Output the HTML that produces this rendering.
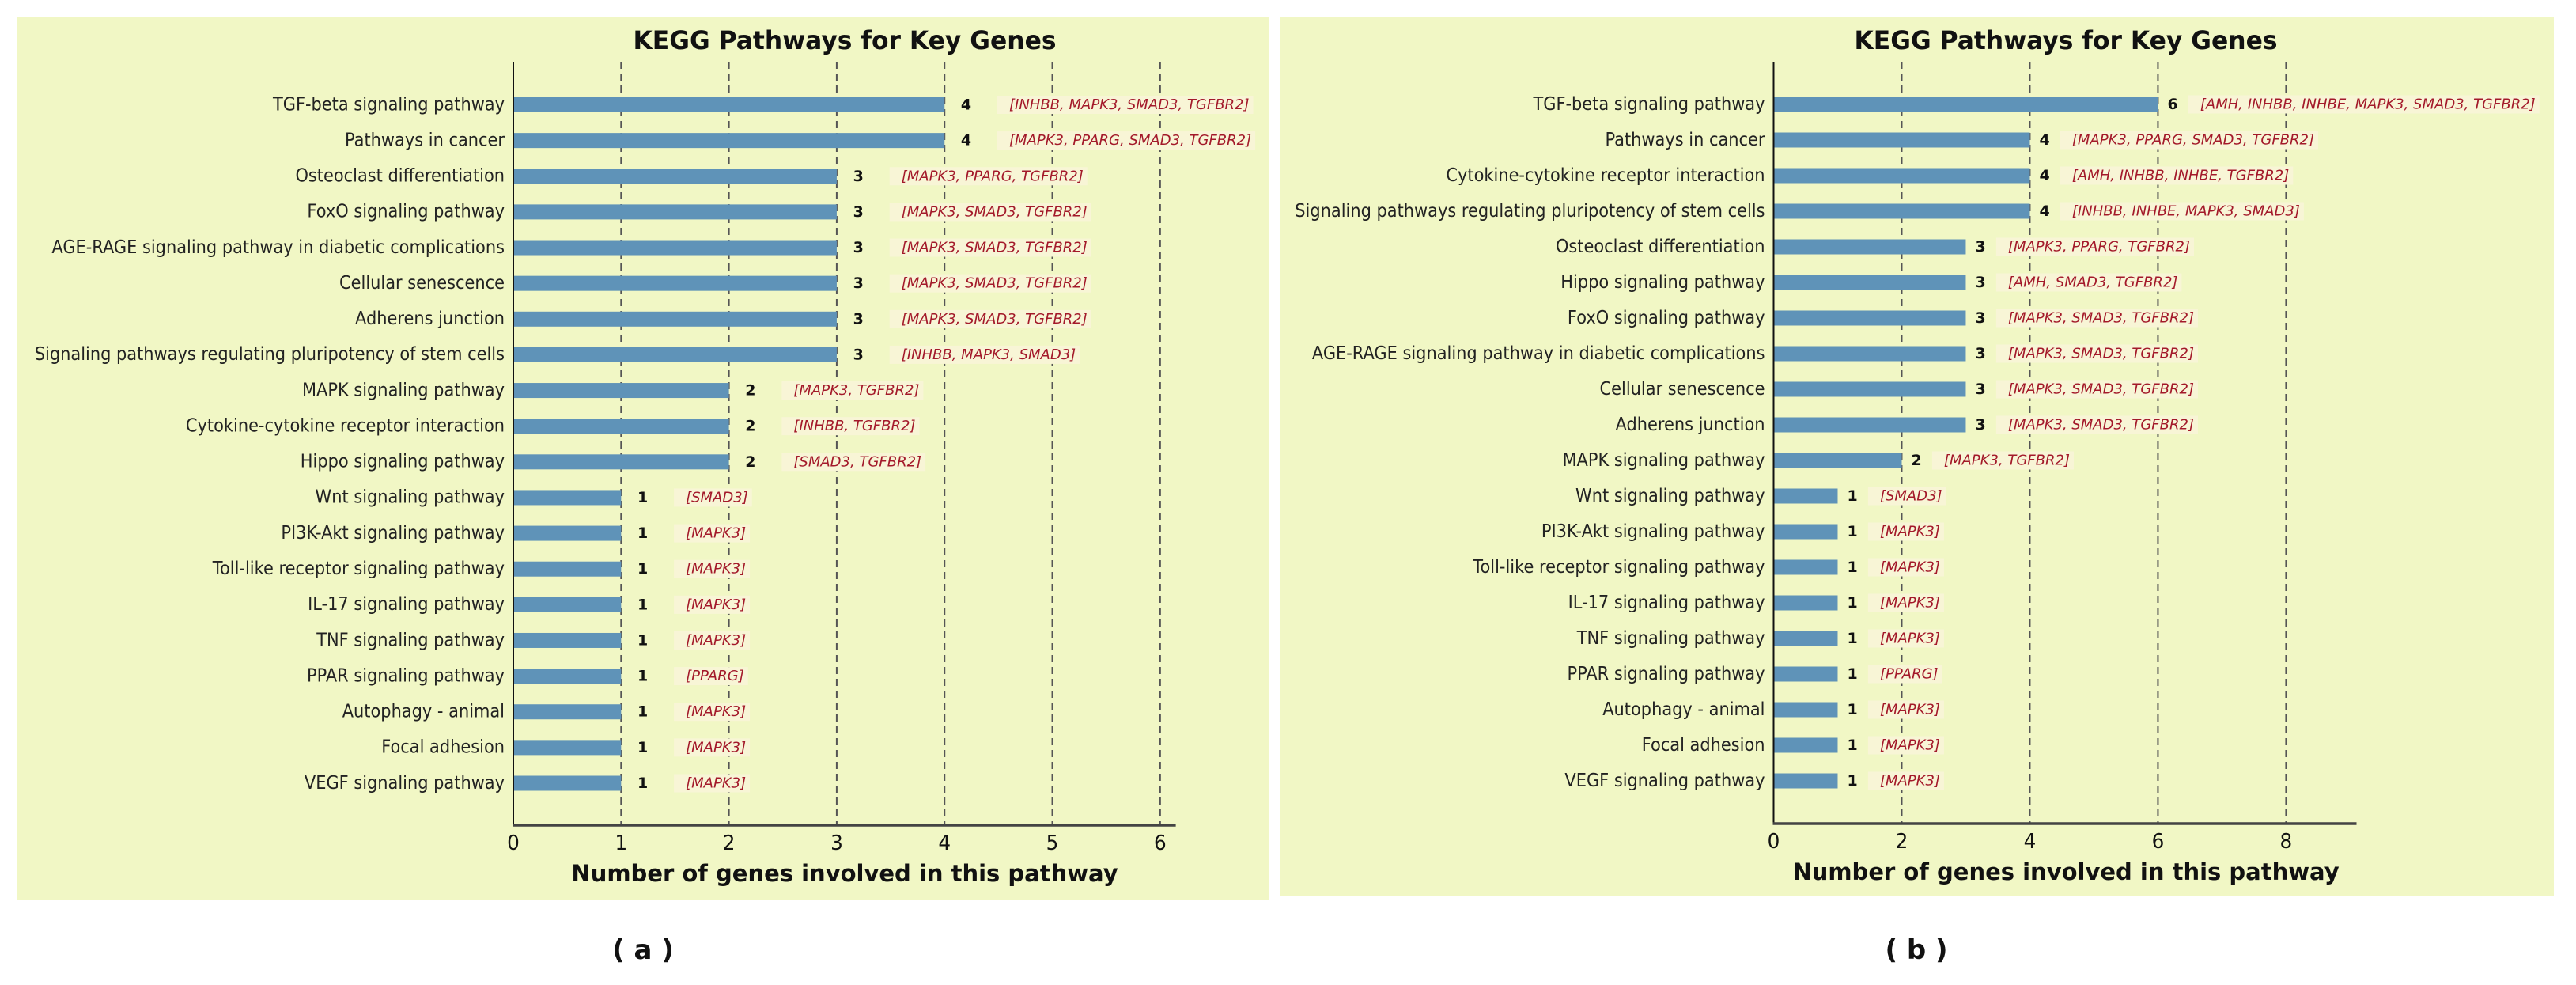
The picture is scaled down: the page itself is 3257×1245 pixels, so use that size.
<!DOCTYPE html>
<html><head><meta charset="utf-8"><style>
html,body{margin:0;padding:0;background:#fff;width:3257px;height:1245px;overflow:hidden}
svg text{font-family:"DejaVu Sans","Liberation Sans",sans-serif}
</style></head><body>
<svg id="fig" width="3257" height="1245" xmlns="http://www.w3.org/2000/svg"></svg>
<script>
const categoriesA = ["TGF-beta signaling pathway","Pathways in cancer","Osteoclast differentiation","FoxO signaling pathway","AGE-RAGE signaling pathway in diabetic complications","Cellular senescence","Adherens junction","Signaling pathways regulating pluripotency of stem cells","MAPK signaling pathway","Cytokine-cytokine receptor interaction","Hippo signaling pathway","Wnt signaling pathway","PI3K-Akt signaling pathway","Toll-like receptor signaling pathway","IL-17 signaling pathway","TNF signaling pathway","PPAR signaling pathway","Autophagy - animal","Focal adhesion","VEGF signaling pathway"];
const valuesA = [4,4,3,3,3,3,3,3,2,2,2,1,1,1,1,1,1,1,1,1];
const genesA = ["[INHBB, MAPK3, SMAD3, TGFBR2]","[MAPK3, PPARG, SMAD3, TGFBR2]","[MAPK3, PPARG, TGFBR2]","[MAPK3, SMAD3, TGFBR2]","[MAPK3, SMAD3, TGFBR2]","[MAPK3, SMAD3, TGFBR2]","[MAPK3, SMAD3, TGFBR2]","[INHBB, MAPK3, SMAD3]","[MAPK3, TGFBR2]","[INHBB, TGFBR2]","[SMAD3, TGFBR2]","[SMAD3]","[MAPK3]","[MAPK3]","[MAPK3]","[MAPK3]","[PPARG]","[MAPK3]","[MAPK3]","[MAPK3]"];
const ticksA = [0,1,2,3,4,5,6];
const categoriesB = ["TGF-beta signaling pathway","Pathways in cancer","Cytokine-cytokine receptor interaction","Signaling pathways regulating pluripotency of stem cells","Osteoclast differentiation","Hippo signaling pathway","FoxO signaling pathway","AGE-RAGE signaling pathway in diabetic complications","Cellular senescence","Adherens junction","MAPK signaling pathway","Wnt signaling pathway","PI3K-Akt signaling pathway","Toll-like receptor signaling pathway","IL-17 signaling pathway","TNF signaling pathway","PPAR signaling pathway","Autophagy - animal","Focal adhesion","VEGF signaling pathway"];
const valuesB = [6,4,4,4,3,3,3,3,3,3,2,1,1,1,1,1,1,1,1,1];
const genesB = ["[AMH, INHBB, INHBE, MAPK3, SMAD3, TGFBR2]","[MAPK3, PPARG, SMAD3, TGFBR2]","[AMH, INHBB, INHBE, TGFBR2]","[INHBB, INHBE, MAPK3, SMAD3]","[MAPK3, PPARG, TGFBR2]","[AMH, SMAD3, TGFBR2]","[MAPK3, SMAD3, TGFBR2]","[MAPK3, SMAD3, TGFBR2]","[MAPK3, SMAD3, TGFBR2]","[MAPK3, SMAD3, TGFBR2]","[MAPK3, TGFBR2]","[SMAD3]","[MAPK3]","[MAPK3]","[MAPK3]","[MAPK3]","[PPARG]","[MAPK3]","[MAPK3]","[MAPK3]"];
const ticksB = [0,2,4,6,8];
const gridA = [1,2,3,4,5,6];
const gridB = [2,4,6,8];

const NS="http://www.w3.org/2000/svg";
const svg=document.getElementById('fig');
function mk(tag,attrs,parent){const e=document.createElementNS(NS,tag);for(const k in attrs)e.setAttribute(k,attrs[k]);(parent||svg).appendChild(e);return e;}
function txt(parent,x,y,str,size,anchor,weight,style,fill,sx){
  const t=mk('text',{transform:`translate(${x},${y}) scale(${sx},1)`,'font-size':size,'text-anchor':anchor,'font-weight':weight,'font-style':style,fill:fill,'dominant-baseline':'central'},parent);
  t.textContent=str;return t;
}
function panel(cfg){
  const g=mk('g',{});
  
  
  const bg=mk('rect',{x:cfg.px,y:cfg.py,width:cfg.pw,height:cfg.ph,fill:'#f1f7c5'},g);
  
  
  const xs=v=>cfg.x0+(v-0)*(cfg.x1-cfg.x0)/cfg.xmax;
  const n=cfg.cats.length;
  const ys=i=>cfg.yTop+i*(cfg.yBot-cfg.yTop)/(n-1);
  cfg.grid.forEach(v=>{
    const l=mk('line',{x1:xs(v),x2:xs(v),y1:cfg.plotTop,y2:cfg.axisY,stroke:'#555','stroke-width':2,'stroke-dasharray':'9,6'},g);
    
    
  });
  cfg.cats.forEach((c,i)=>{
    const y=ys(i),v=cfg.vals[i];
    const b=mk('rect',{x:xs(0),y:y-9.5,width:xs(v)-xs(0),height:19,fill:'#5f93b8'},g);
    
    
    const lab=txt(g,cfg.x0-11,y,c,23,'end','normal','normal','#222',0.91);
    
    
    const vl=txt(g,xs(v+cfg.vOff),y,String(v),19,'middle','bold','normal','#111',1.0);
    
    
    const gx=xs(v+cfg.gOff);
    const gt=txt(g,gx,y,cfg.genes[i],18,'start','normal','italic','#a3192a',1.0);
    
    
    const w=gt.getComputedTextLength();
    const box=mk('rect',{x:gx-15,y:y-11.5,width:w+20,height:23,fill:'#f8f5d6'},g);
    
    
    g.insertBefore(box,gt);
  });
  const ls=mk('line',{x1:cfg.x0,x2:cfg.x0,y1:cfg.plotTop,y2:cfg.axisY,stroke:'#111','stroke-width':2},g);
  
  
  const bs=mk('line',{x1:cfg.x0-1,x2:cfg.x1,y1:cfg.axisY,y2:cfg.axisY,stroke:'#444','stroke-width':3.5},g);
  
  
  cfg.ticks.forEach(v=>{
    const t=txt(g,xs(v),cfg.axisY+22,String(v),26,'middle','normal','normal','#111',0.95);
    
    
  });
  const at=txt(g,cfg.xtitleX,cfg.axisY+61,'Number of genes involved in this pathway',29,'middle','bold','normal','#111',1.0);
  
  
  const tt=txt(g,cfg.titleX,52,'KEGG Pathways for Key Genes',32,'middle','bold','normal','#111',0.98);
  
  
  const cap=txt(svg,cfg.capX,1201,cfg.cap,34,'middle','bold','normal','#111',1.0);
  
  
}
panel({name:'panel-a',px:21,py:22,pw:1583,ph:1115,x0:649,x1:1486.6,xmax:6.145,yTop:132.5,yBot:990,plotTop:78,axisY:1043,
  cats:categoriesA,vals:valuesA,genes:genesA,ticks:ticksA,grid:gridA,vOff:0.2,gOff:0.6,xtitleX:1068,titleX:1068,capX:813,cap:'( a )'});
panel({name:'panel-b',px:1619,py:22,pw:1610,ph:1111,x0:2242.5,x1:2979.5,xmax:9.1,yTop:132,yBot:987,plotTop:78,axisY:1041,
  cats:categoriesB,vals:valuesB,genes:genesB,ticks:ticksB,grid:gridB,vOff:0.23,gOff:0.66,xtitleX:2612,titleX:2612,capX:2423,cap:'( b )'});
</script>
</body></html>
